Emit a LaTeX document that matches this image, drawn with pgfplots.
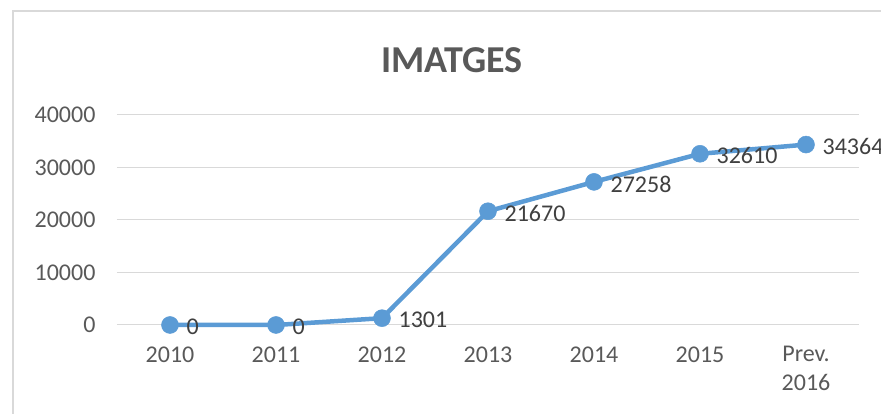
\documentclass[border=0pt]{standalone}
\usepackage{fontspec}
\setmainfont{Carlito}
\usepackage{pgfplots}
\pgfplotsset{compat=1.18}
\definecolor{xlblue}{HTML}{5B9BD5}
\definecolor{xlgrid}{HTML}{D9D9D9}
\definecolor{xltext}{HTML}{595959}
\definecolor{xllabel}{HTML}{404040}

\begin{document}
\begin{tikzpicture}[x=1pt,y=1pt]
\useasboundingbox (0,0) rectangle (881,414);
% chart frame (only left and top visible)
\draw[xlgrid, line width=1.5pt] (13,0) -- (13,403) -- (881,403);
\node[font=\fontsize{38}{42}\selectfont\bfseries, text=xltext] at (452,354) {IMATGES};
\begin{axis}[
  at={(117pt,89pt)}, anchor=south west,
  scale only axis, width=742pt, height=210pt,
  xmin=-0.5, xmax=6.5, ymin=0, ymax=40000,
  xtick=data,
  xticklabels={2010,2011,2012,2013,2014,2015,{Prev.\\2016}},
  x tick label style={align=center, yshift=-18pt},
  ytick={0,10000,20000,30000,40000},
  scaled y ticks=false,
  /pgf/number format/1000 sep={},
  /pgf/number format/assume math mode=true,
  tick label style={font=\fontsize{24}{29}\selectfont, text=xltext},
  y tick label style={xshift=-18pt},
  axis line style={draw=none},
  major tick length=0pt,
  ymajorgrids, grid style={xlgrid, line width=1pt},
  clip=false,
  nodes near coords,
  nodes near coords align={horizontal},
  every node near coord/.append style={anchor=west, xshift=13pt, yshift=-2pt,
    font=\fontsize{24}{28}\selectfont, text=xllabel},
]
\addplot[xlblue, line width=4.5pt, mark=*, mark size=8.5pt,
  mark options={fill=xlblue, draw=xlblue, line width=0.5pt}]
  coordinates {(0,0) (1,0) (2,1301) (3,21670) (4,27258) (5,32610) (6,34364)};
\end{axis}
\end{tikzpicture}
\end{document}
